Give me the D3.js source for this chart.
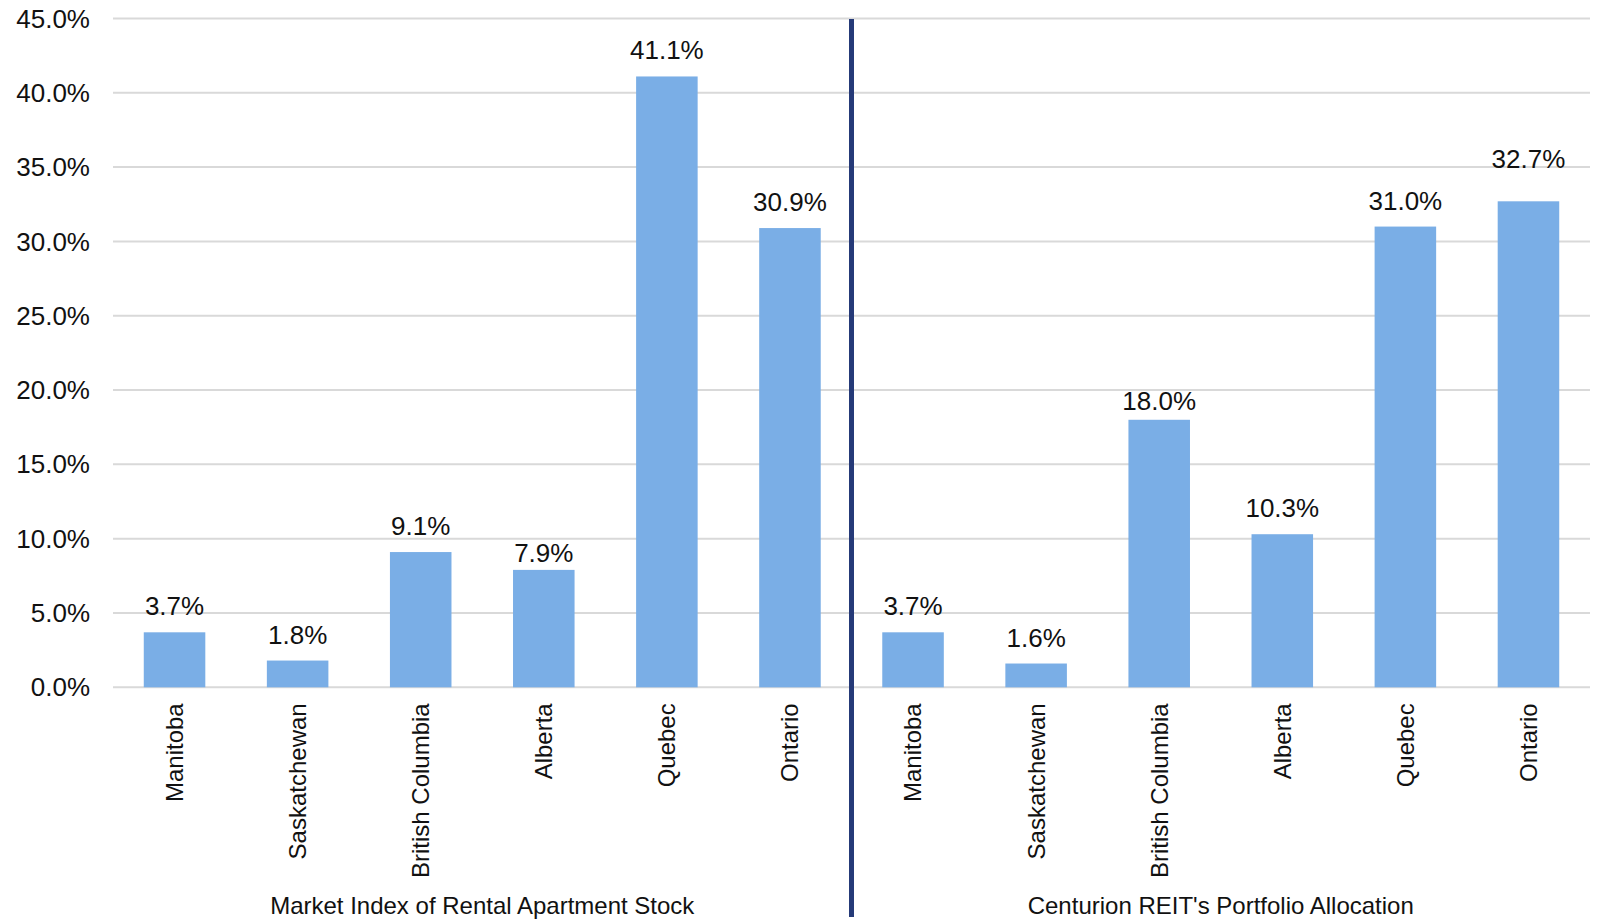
<!DOCTYPE html>
<html>
<head>
<meta charset="utf-8">
<script src="https://cdn.jsdelivr.net/npm/d3@7"></script>
<style>
  html, body { margin: 0; padding: 0; background: #ffffff; }
  svg { display: block; font-family: "Liberation Sans", Arial, Helvetica, sans-serif; }
</style>
</head>
<body>
<svg id="chart" width="1600" height="919"></svg>
<script>
// Provinces shown in each panel
const provinces = ["Manitoba", "Saskatchewan", "British Columbia", "Alberta", "Quebec", "Ontario"];
// Panel titles
const groups = ["Market Index of Rental Apartment Stock", "Centurion REIT's Portfolio Allocation"];
// Share of units (%) per province
const marketIndex = [3.7, 1.8, 9.1, 7.9, 41.1, 30.9];
const centurionPortfolio = [3.7, 1.6, 18.0, 10.3, 31.0, 32.7];
// Y axis ticks (%)
const yTicks = [0, 5, 10, 15, 20, 25, 30, 35, 40, 45];

const seriesByGroup = [marketIndex, centurionPortfolio];
const rows = [];
groups.forEach((g, gi) => {
  provinces.forEach((p, pi) => {
    rows.push({ key: gi + "|" + p, group: gi, province: p, value: seriesByGroup[gi][pi] });
  });
});

const svg = d3.select("#chart");
const plot = { left: 113, right: 1590, top: 18.5, bottom: 687.3 };

// Hand-placed value labels: vertical shift (px) away from the default offset
const labelShift = { "0|Alberta": 9, "1|British Columbia": 7, "1|Ontario": -16 };

const x = d3.scaleBand()
  .domain(rows.map(d => d.key))
  .range([plot.left, plot.right])
  .paddingInner(0.5)
  .paddingOuter(0.25);

const y = d3.scaleLinear()
  .domain([0, 45])
  .range([plot.bottom, plot.top]);

// Horizontal gridlines (including the baseline)
svg.append("g")
  .selectAll("line")
  .data(yTicks)
  .join("line")
  .attr("x1", plot.left)
  .attr("x2", plot.right)
  .attr("y1", d => y(d))
  .attr("y2", d => y(d))
  .attr("stroke", "#d9d9d9")
  .attr("stroke-width", 2);

// Y axis tick labels
svg.append("g")
  .selectAll("text")
  .data(yTicks)
  .join("text")
  .attr("x", 90)
  .attr("y", d => y(d))
  .attr("dy", "0.35em")
  .attr("text-anchor", "end")
  .attr("font-size", 26)
  .attr("fill", "#111")
  .text(d => d3.format(".1f")(d) + "%");

// Bars
svg.append("g")
  .selectAll("rect")
  .data(rows)
  .join("rect")
  .attr("x", d => x(d.key))
  .attr("width", x.bandwidth())
  .attr("y", d => y(d.value))
  .attr("height", d => y(0) - y(d.value))
  .attr("fill", "#7aaee6");

// Value labels
svg.append("g")
  .selectAll("text")
  .data(rows)
  .join("text")
  .attr("x", d => x(d.key) + x.bandwidth() / 2)
  .attr("y", d => y(d.value) - 17 + (labelShift[d.key] || 0))
  .attr("text-anchor", "middle")
  .attr("font-size", 26)
  .attr("fill", "#111")
  .text(d => d3.format(".1f")(d.value) + "%");

// Rotated category labels
svg.append("g")
  .selectAll("text")
  .data(rows)
  .join("text")
  .attr("transform", d => `translate(${x(d.key) + x.bandwidth() / 2},${plot.bottom + 16}) rotate(-90)`)
  .attr("dy", "0.35em")
  .attr("text-anchor", "end")
  .attr("font-size", 24)
  .attr("fill", "#111")
  .text(d => d.province);

// Group titles centred under each panel
const step = x.step();
svg.append("g")
  .selectAll("text")
  .data(groups)
  .join("text")
  .attr("x", (d, i) => plot.left + step * (i * provinces.length + provinces.length / 2))
  .attr("y", 914)
  .attr("text-anchor", "middle")
  .attr("font-size", 24)
  .attr("fill", "#111")
  .text(d => d);

// Divider between the two panels
const divX = plot.left + step * provinces.length;
svg.append("line")
  .attr("x1", divX)
  .attr("x2", divX)
  .attr("y1", 19)
  .attr("y2", 917)
  .attr("stroke", "#253a78")
  .attr("stroke-width", 5);
</script>
</body>
</html>
